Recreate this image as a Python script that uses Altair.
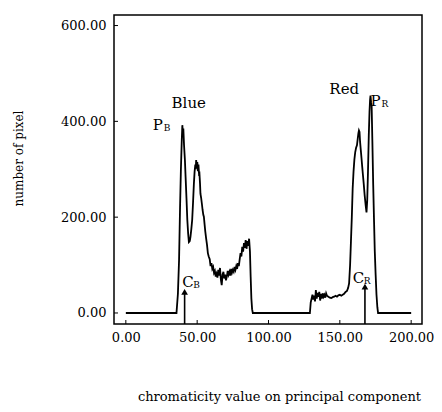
import altair as alt
import pandas as pd

# ---- data ----
curve_x = [0, 35.5, 36.5, 37.3, 38.0, 38.6, 39.2, 39.6, 40.0, 40.3, 40.8, 41.4, 41.9, 42.5, 43.1, 43.7,
           44.2, 44.8, 45.3, 45.9, 46.5, 47.1, 47.7, 48.2, 48.7, 49.0, 49.3, 49.7, 50.1, 50.5, 50.9,
           51.3, 51.6, 52.0, 52.3, 52.8, 53.3, 53.8, 54.3, 54.7, 55.2, 55.7, 56.3, 56.9, 57.5, 58.1,
           58.8, 59.4, 60.0, 60.6, 61.2, 61.8, 62.4, 63.0, 63.6, 64.2, 64.8, 65.4, 66.0, 66.6, 67.2,
           67.8, 68.4, 69.0, 69.6, 70.2, 70.8, 71.4, 72.0, 72.6, 73.2, 73.8, 74.4, 75.0, 75.6, 76.2,
           76.8, 77.4, 78.0, 78.6, 79.2, 79.8, 80.4, 81.0, 81.6, 82.2, 82.8, 83.4, 84.0, 84.6, 85.2,
           85.8, 86.4, 87.0, 87.5, 88.0, 88.5, 89.0, 89.5, 128.5,
           129.0, 129.6, 130.2, 130.8, 131.4, 132.0, 132.6, 133.2, 133.8, 134.4, 135.0, 135.6, 136.2,
           136.8, 137.4, 138.0, 138.6, 139.2, 139.8, 140.4, 141.0, 142.0, 143.0, 144.0, 145.0, 146.0,
           147.0, 148.0, 149.0, 150.0, 151.0, 152.0, 153.0, 154.0, 155.0, 155.8, 156.5, 157.2, 157.8,
           158.4, 159.0, 159.6, 160.2, 160.8, 161.4, 162.0, 162.6, 163.0, 163.4, 163.8, 164.2, 164.7,
           165.2, 165.7, 166.2, 166.8, 167.4, 168.1, 168.7, 169.2, 169.7, 170.3, 170.8, 171.2, 171.5,
           171.9, 172.3, 172.8, 173.4, 174.0, 174.5, 175.1, 175.7, 176.3, 176.8, 200]
curve_y = [0, 0, 40, 110, 220, 300, 360, 392, 375, 385, 350, 320, 283, 240, 194, 165,
           148, 150, 159, 175, 194, 230, 270, 295, 310, 300, 319, 305, 315, 296, 310,
           290, 291, 270, 249, 240, 228, 215, 205, 201, 185, 170, 155, 142, 125, 118,
           112, 98, 104, 92, 96, 84, 88, 76, 82, 74, 90, 78, 94, 70, 58,
           80, 86, 72, 80, 68, 76, 88, 80, 86, 78, 92, 84, 90, 86, 96,
           90, 98, 92, 104, 98, 112, 125, 118, 138, 128, 146, 136, 152, 134, 150,
           140, 155, 128, 75, 30, 8, 0, 0, 0,
           0, 22, 30, 38, 28, 36, 24, 48, 30, 42, 34, 44, 26,
           40, 30, 41, 34, 38, 32, 41, 36, 34, 32, 31, 33, 34,
           36, 34, 37, 38, 36, 38, 40, 44, 46, 52, 62, 100, 150,
           200, 260, 295, 320, 336, 345, 350, 365, 375, 381, 378, 357, 340,
           323, 305, 288, 268, 246, 225, 210, 235, 290, 371, 420, 445, 454,
           440, 433, 360, 267, 190, 129, 80, 38, 12, 0, 0]

arrow_x = [41.2, 167.6]
arrow_bottom = [-23, -23]
arrow_top = [44, 55]

name_text = ["Blue", "Red"]
name_x = [44.1, 153.1]
name_y = [438, 467]

letter_text = ["P", "C", "P", "C"]
sub_text = ["B", "B", "R", "R"]
letter_x = [18.8, 39.6, 171.5, 159.0]
letter_y = [392, 65, 442, 74]

x_ticks = [0, 50, 100, 150, 200]
y_ticks = [0, 200, 400, 600]
x_domain = [-8.3, 207.6]
y_domain = [-23, 622]

FONT = "DejaVu Serif"
W, H = 308, 309

curve = pd.DataFrame({"x": curve_x, "y": curve_y})
arrows = pd.DataFrame({"x": arrow_x, "y0": arrow_bottom, "y1": arrow_top})
names = pd.DataFrame({"x": name_x, "y": name_y, "t": name_text})
letters = pd.DataFrame({"x": letter_x, "y": letter_y, "t": letter_text, "s": sub_text})
xt = pd.DataFrame({"v": x_ticks})
yt = pd.DataFrame({"v": y_ticks})

xscale = alt.Scale(domain=x_domain, nice=False, zero=False)
yscale = alt.Scale(domain=y_domain, nice=False, zero=False)

xaxis = alt.Axis(values=x_ticks, format=".2f", title="chromaticity value on principal component",
                 titleX=165, titleY=72, titleAlign="center", titleBaseline="middle",
                 labelPadding=7)
yaxis = alt.Axis(values=y_ticks, format=".2f", title="number of pixel",
                 titleX=-96, titleY=143, titleAlign="center", titleBaseline="middle",
                 titleAngle=270, labelPadding=8)

line = alt.Chart(curve).mark_line(color="black", strokeWidth=1.8, interpolate="linear").encode(
    x=alt.X("x:Q", scale=xscale, axis=xaxis),
    y=alt.Y("y:Q", scale=yscale, axis=yaxis),
)

shaft = alt.Chart(arrows).mark_rule(color="black", strokeWidth=1.6).encode(
    x=alt.X("x:Q", scale=xscale), y=alt.Y("y0:Q", scale=yscale), y2="y1:Q"
)
head = alt.Chart(arrows).mark_point(shape="triangle-up", filled=True, color="black",
                                    size=45, opacity=1).encode(
    x=alt.X("x:Q", scale=xscale), y=alt.Y("y1:Q", scale=yscale)
)

name_marks = alt.Chart(names).mark_text(font=FONT, fontSize=15, color="black").encode(
    x=alt.X("x:Q", scale=xscale), y=alt.Y("y:Q", scale=yscale), text="t:N"
)
letter_marks = alt.Chart(letters).mark_text(font=FONT, fontSize=15, color="black",
                                            align="left").encode(
    x=alt.X("x:Q", scale=xscale), y=alt.Y("y:Q", scale=yscale), text="t:N"
)
sub_marks = alt.Chart(letters).mark_text(font=FONT, fontSize=9, color="black",
                                         align="left", dx=11, dy=3).encode(
    x=alt.X("x:Q", scale=xscale), y=alt.Y("y:Q", scale=yscale), text="s:N"
)

ytick_marks = alt.Chart(yt).mark_rule(color="black", strokeWidth=1).encode(
    y=alt.Y("v:Q", scale=yscale), x=alt.value(0), x2=alt.value(4)
)
xtick_marks = alt.Chart(xt).mark_rule(color="black", strokeWidth=1).encode(
    x=alt.X("v:Q", scale=xscale), y=alt.value(H), y2=alt.value(H - 4)
)

chart = alt.layer(line, shaft, head, name_marks, letter_marks, sub_marks,
                  ytick_marks, xtick_marks).properties(
    width=W, height=H,
    autosize=alt.AutoSizeParams(type="none"),
    padding={"left": 106, "top": 7, "right": 12, "bottom": 80},
    background="white",
).configure_view(
    stroke="black", strokeWidth=1.5
).configure_axis(
    grid=False, domain=False, ticks=False,
    labelFont=FONT, labelFontSize=13, labelColor="black",
    titleFont=FONT, titleFontSize=13, titleColor="black", titleFontWeight="normal",
).configure_axisY(titleFontSize=12)

chart.save("out.html", embed_options={"renderer": "svg", "actions": False})
